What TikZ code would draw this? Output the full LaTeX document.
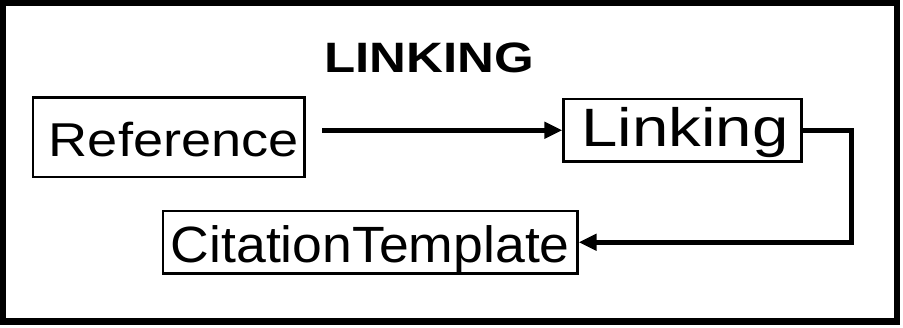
\documentclass[tikz,border=0pt]{standalone}
\usepackage{fontspec}
\setmainfont{Liberation Sans}
\usepackage{graphicx}
\usetikzlibrary{arrows.meta}
\begin{document}
\begin{tikzpicture}[x=1pt,y=-1pt,
  frame/.style={draw, line width=6.5pt, inner sep=0pt},
  box/.style={draw, line width=2.2pt, inner sep=0pt},
  conn/.style={line width=5pt, -{Triangle[length=18pt,width=16pt]}}]
\useasboundingbox (0,0) rectangle (903,327);
\node[frame, minimum width=894pt, minimum height=318.5pt] (outer) at (450,162.25) {};
\node[anchor=base west, inner sep=0pt] (title) at (324.3,72)
  {\fontsize{42.5pt}{50pt}\selectfont\bfseries\scalebox{1.2}[1]{LINKING}};
\node[box, minimum width=271.5pt, minimum height=79.5pt, text height=38.5pt, text depth=0pt] (ref) at (168.75,137.25)
  {\hspace*{10pt}\fontsize{47.5pt}{56pt}\selectfont\scalebox{1.14}[1]{Reference}};
\node[box, minimum width=238pt, minimum height=62.5pt, text height=38pt, text depth=6.5pt] (link) at (682.5,130.25)
  {\hspace*{5pt}\fontsize{54pt}{62pt}\selectfont\scalebox{1.21}[1]{Linking}};
\node[box, minimum width=414.5pt, minimum height=62.5pt, text height=40pt, text depth=0.5pt] (cit) at (370.25,242.25)
  {\fontsize{51pt}{58pt}\selectfont\scalebox{1.05}[1]{CitationTemplate}};
\coordinate (start) at (322,130.25);
\coordinate (bend) at (851,130.25);
\draw[conn] (start) -- (link.west);
\draw[conn] (link.east) -- (bend) |- (cit.east);
\end{tikzpicture}
\end{document}
